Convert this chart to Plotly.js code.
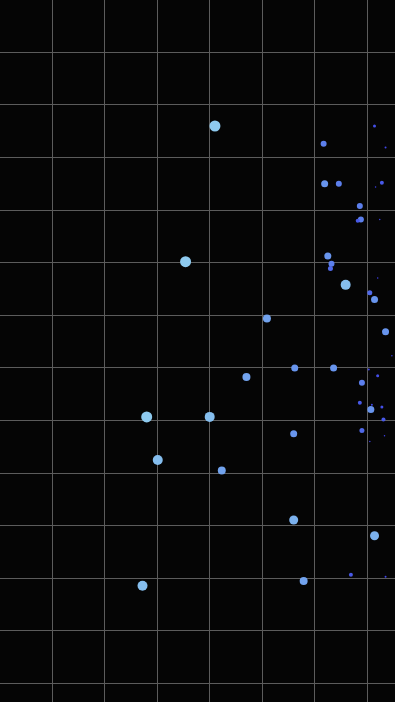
<!DOCTYPE html>
<html>
<head>
<meta charset="utf-8">
<script src="https://cdn.plot.ly/plotly-3.0.1.min.js"></script>
<style>html,body{margin:0;padding:0;background:#050505;}#chart{width:395px;height:702px;}</style>
</head>
<body>
<div id="chart"></div>
<script>
var xValues = [4.10,3.54,6.59,2.80,4.00,3.01,2.72,7.14,5.09,4.70,5.62,6.36,4.23,5.60,5.79,5.60,6.25,6.32,6.30,6.17,6.19,6.46,6.86,6.88,6.82,7.05,7.14,7.35,6.90,7.07,6.86,6.90,6.69,7.14,7.28,7.20,7.31,7.35,7.24,7.20,7.47,7.03,7.09,7.28,7.35,7.33,7.05,7.16];
var yValues = [2.40,4.98,5.42,7.93,7.93,8.75,11.14,10.19,6.06,7.17,7.00,7.00,8.95,9.89,11.05,8.25,4.87,5.02,5.11,2.74,3.50,3.50,3.92,4.18,4.20,5.57,5.70,6.31,7.28,7.79,7.66,8.19,10.93,2.40,3.48,7.15,7.98,2.81,4.18,5.29,6.77,7.03,7.70,7.74,10.97,8.29,8.40,3.56];
var sizeValues = [11,11,10,11,10,10,10,9,8,8,7,7,8,9,8,7,7,6,5,6,7,6,6,6,4,5,7,7,6,7,4,5,4,3,4,3,4,2,1.5,1.5,1.5,2,2,3,2,1.5,1.5,1.5];

Plotly.newPlot('chart', [{
  type: 'scatter',
  mode: 'markers',
  x: xValues,
  y: yValues,
  marker: {
    size: sizeValues,
    color: sizeValues,
    opacity: 1,
    cmin: 1,
    cmax: 11,
    colorscale: [[0,'#3c3ce8'],[0.35,'#4a5ee8'],[0.6,'#6895ee'],[0.85,'#80b8ee'],[1,'#8ecaef']],
    line: {width: 0},
    showscale: false
  },
  hoverinfo: 'skip'
}], {
  width: 395,
  height: 702,
  margin: {l:0, r:0, t:0, b:0, pad:0},
  paper_bgcolor: '#050505',
  plot_bgcolor: '#050505',
  showlegend: false,
  xaxis: {range:[0.005, 7.53], dtick:1, tick0:0, showgrid:true, gridcolor:'#5c5c5c', gridwidth:1, zeroline:false, showticklabels:false, ticks:'', showline:false},
  yaxis: {range:[13.35, 0.005], dtick:1, tick0:0, showgrid:true, gridcolor:'#5c5c5c', gridwidth:1, zeroline:false, showticklabels:false, ticks:'', showline:false}
}, {displayModeBar:false, staticPlot:true});
</script>
</body>
</html>
